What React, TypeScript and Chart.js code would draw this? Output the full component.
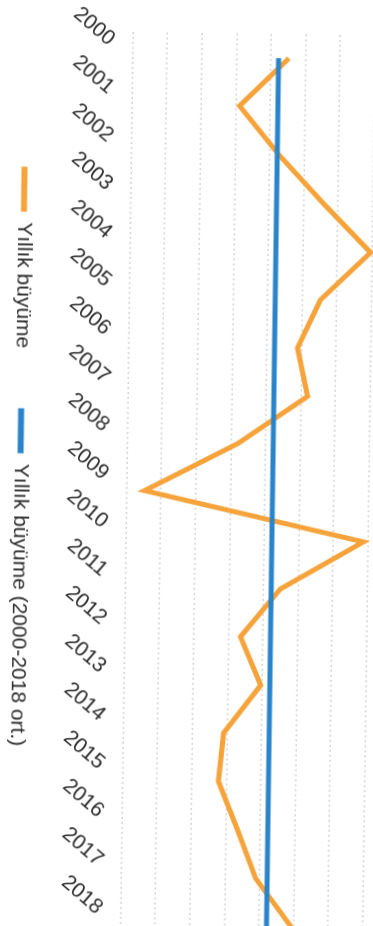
import { useEffect, useRef } from "react";
import { Chart, registerables } from "chart.js";

Chart.register(...registerables);

// Categories (years)
const YEARS = [
  "2000", "2001", "2002", "2003", "2004", "2005", "2006", "2007", "2008", "2009",
  "2010", "2011", "2012", "2013", "2014", "2015", "2016", "2017", "2018",
];

// Annual growth (in gridline units)
const ANNUAL_GROWTH = [
  4.51, 3.11, 4.26, 5.57, 6.95, 5.52, 4.88, 5.19, 3.19, 0.52,
  6.86, 4.48, 3.35, 3.95, 2.9, 2.77, 3.34, 3.88, 4.93,
];

// 2000-2018 average growth
const AVERAGE_GROWTH = [
  4.22, 4.22, 4.22, 4.22, 4.22, 4.22, 4.22, 4.22, 4.22, 4.22,
  4.22, 4.22, 4.22, 4.22, 4.22, 4.22, 4.22, 4.22, 4.22,
];

const SERIES_LABELS = ["Yıllık büyüme", "Yıllık büyüme (2000-2018 ort.)"];

const Y_MIN = 0;
const Y_MAX = 8;
const Y_STEP = 1;

const ORANGE = "#F5A33A";
const BLUE = "#2A84CB";
const TEXT = "#2a2a2a";
const FONT_FAMILY = "'Liberation Sans', Arial, Helvetica, sans-serif";

// canvas geometry (chart drawn landscape, then rotated onto the portrait page)
const W = 998;
const H = 404;
const CX = 202;
const CY = 459;

export default function App() {
  const ref = useRef<HTMLCanvasElement>(null);

  useEffect(() => {
    if (!ref.current) return;
    const chart = new Chart(ref.current, {
      type: "line",
      data: {
        labels: YEARS,
        datasets: [
          {
            label: SERIES_LABELS[0],
            data: ANNUAL_GROWTH,
            borderColor: ORANGE,
            backgroundColor: ORANGE,
            borderWidth: 5,
            pointRadius: 0,
            tension: 0,
            order: 1,
          },
          {
            label: SERIES_LABELS[1],
            data: AVERAGE_GROWTH,
            borderColor: BLUE,
            backgroundColor: BLUE,
            borderWidth: 5,
            pointRadius: 0,
            tension: 0,
            order: 0,
          },
        ],
      },
      options: {
        responsive: false,
        maintainAspectRatio: false,
        animation: false,
        layout: { padding: 0 },
        font: { family: FONT_FAMILY, size: 21 },
        plugins: {
          tooltip: { enabled: false },
          legend: {
            position: "bottom",
            labels: {
              boxWidth: 45,
              boxHeight: 6,
              padding: 60,
              color: TEXT,
              font: { family: FONT_FAMILY, size: 21 },
              generateLabels: (c: any) =>
                Chart.defaults.plugins.legend.labels
                  .generateLabels(c)
                  .map((l: any) => ({ ...l, lineWidth: 0 }))
                  .sort((a: any, b: any) => a.datasetIndex - b.datasetIndex),
            },
          },
        },
        scales: {
          x: {
            offset: true,
            grid: { display: false, drawTicks: false },
            border: { display: false },
            ticks: {
              autoSkip: false,
              minRotation: 50,
              maxRotation: 50,
              padding: 13,
              labelOffset: -14,
              color: TEXT,
              font: { family: FONT_FAMILY, size: 21 },
            },
            afterFit: (s: any) => {
              s.height = 36;
              // let the rotated year labels overflow into the (empty) legend padding
              s._computeLabelArea = () => undefined;
            },
          },
          y: {
            min: Y_MIN,
            max: Y_MAX,
            grid: { color: "#d4d4d4", lineWidth: 1.5, drawTicks: false },
            border: { display: false, dash: [2, 3] },
            ticks: { display: false, stepSize: Y_STEP },
            afterFit: (s: any) => {
              s.width = 73;
            },
          },
        },
      },
    } as any);
    return () => chart.destroy();
  }, []);

  return (
    <div
      style={{
        position: "fixed",
        left: 0,
        top: 0,
        width: 373,
        height: 926,
        overflow: "hidden",
        background: "#ffffff",
      }}
    >
      <canvas
        ref={ref}
        width={W}
        height={H}
        style={{
          position: "absolute",
          left: CX - W / 2,
          top: CY - H / 2,
          width: W,
          height: H,
          transform: "rotate(90.8deg)",
        }}
      />
    </div>
  );
}
